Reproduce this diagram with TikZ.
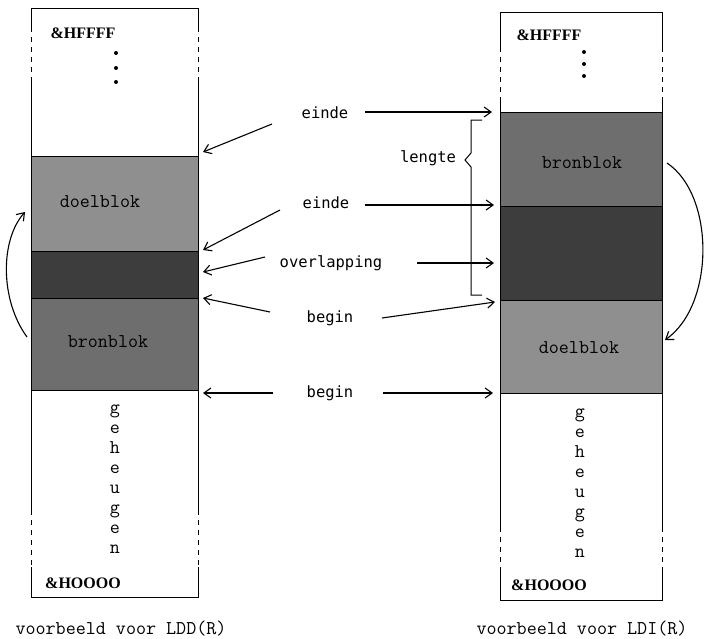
\documentclass[tikz,border=0pt]{standalone}
\usepackage{fontspec}
\newfontfamily\midfont{DejaVu Sans Mono}
\newfontfamily\addrfont{Liberation Serif}
\usetikzlibrary{arrows.meta}
\definecolor{doelc}{gray}{0.56}
\definecolor{bronc}{gray}{0.43}
\definecolor{overc}{gray}{0.24}
\begin{document}
\begin{tikzpicture}[x=1pt,y=-1pt,line width=1pt,
  boxtxt/.style={font=\ttfamily\fontsize{19.5}{20}\selectfont,inner sep=0pt},
  addr/.style={font=\addrfont\bfseries\fontsize{16}{18}\selectfont,inner sep=0pt},
  midtxt/.style={font=\midfont\fontsize{15.5}{18}\selectfont,inner sep=0pt},
  arr/.style={-{Straight Barb[length=7pt,width=10pt]},line width=1.1pt},
  dsh/.style={dash pattern=on 5pt off 5pt},
  sep/.style={line width=0.8pt}]
\useasboundingbox (0,0) rectangle (705,638);
% ---------- left box ----------
\fill[doelc] (31,156) rectangle (198,251);
\fill[overc] (31,251) rectangle (198,298);
\fill[bronc] (31,298) rectangle (198,390);
\draw[sep] (31,156) -- (198,156) (31,251) -- (198,251) (31,298) -- (198,298) (31,390) -- (198,390);
\draw (31,27) -- (31,8) -- (198,8) -- (198,27);
\draw[dsh] (31,27) -- (31,80) (198,27) -- (198,80);
\draw (31,80) -- (31,510) (198,80) -- (198,510);
\draw[dsh] (31,510) -- (31,567) (198,510) -- (198,567);
\draw (31,567) -- (31,597) -- (198,597) -- (198,567);
\node[addr] (lhi) at (83,33) {\&HFFFF};
\fill (116,53) circle (2) (116,68) circle (2) (116,82) circle (2);
\node[boxtxt] (ldoel) at (100,202) {doelblok};
\node[boxtxt] (lbron) at (108,342) {bronblok};
\node[boxtxt,align=center] (lgeh) at (115,479) {g\\e\\h\\e\\u\\g\\e\\n};
\node[addr] (llo) at (83,583) {\&HOOOO};
\node[boxtxt] (lcap) at (121,629) {voorbeeld voor LDD(R)};
% ---------- right box ----------
\fill[bronc] (500,112) rectangle (662,206);
\fill[overc] (500,206) rectangle (662,300);
\fill[doelc] (500,300) rectangle (662,393);
\draw[sep] (500,112) -- (662,112) (500,206) -- (662,206) (500,300) -- (662,300) (500,393) -- (662,393);
\draw (500,47) -- (500,12) -- (662,12) -- (662,47);
\draw[dsh] (500,47) -- (500,97) (662,47) -- (662,97);
\draw (500,97) -- (500,527) (662,97) -- (662,527);
\draw[dsh] (500,527) -- (500,567) (662,527) -- (662,567);
\draw (500,567) -- (500,600) -- (662,600) -- (662,567);
\node[addr] (rhi) at (549,35) {\&HFFFF};
\fill (584,52) circle (2) (584,64) circle (2) (584,76) circle (2);
\node[boxtxt] (rbron) at (582,163) {bronblok};
\node[boxtxt] (rdoel) at (579,348) {doelblok};
\node[boxtxt,align=center] (rgeh) at (580,483) {g\\e\\h\\e\\u\\g\\e\\n};
\node[addr] (rlo) at (549,585) {\&HOOOO};
\node[boxtxt] (rcap) at (582,629) {voorbeeld voor LDI(R)};
% ---------- middle labels ----------
\node[midtxt] (e1) at (325,113) {einde};
\node[midtxt] (e2) at (326,203) {einde};
\node[midtxt] (ov) at (331,263) {overlapping};
\node[midtxt] (b1) at (330,318) {begin};
\node[midtxt] (b2) at (330,393) {begin};
\node[midtxt] (len) at (428,158) {lengte};
% coordinates
\coordinate (e1l) at (272,124); \coordinate (e1lt) at (203,152);
\coordinate (e1r) at (365,112); \coordinate (e1rt) at (492,112);
\coordinate (e2l) at (280,210); \coordinate (e2lt) at (203,250);
\coordinate (e2r) at (365,205); \coordinate (e2rt) at (494,205);
\coordinate (ovl) at (265,257); \coordinate (ovlt) at (203,272);
\coordinate (ovr) at (417,263); \coordinate (ovrt) at (494,263);
\coordinate (b1l) at (270,312); \coordinate (b1lt) at (203,298);
\coordinate (b1r) at (382,318); \coordinate (b1rt) at (495,302);
\coordinate (b2l) at (273,393); \coordinate (b2lt) at (203,393);
\coordinate (b2r) at (383,393); \coordinate (b2rt) at (493,393);
\draw[arr] (e1l) -- (e1lt);
\draw[arr] (e1r) -- (e1rt);
\draw[arr] (e2l) -- (e2lt);
\draw[arr] (e2r) -- (e2rt);
\draw[arr] (ovl) -- (ovlt);
\draw[arr] (ovr) -- (ovrt);
\draw[arr] (b1l) -- (b1lt);
\draw[arr] (b1r) -- (b1rt);
\draw[arr] (b2l) -- (b2lt);
\draw[arr] (b2r) -- (b2rt);
% brace
\draw[line width=1pt] (482,120) -- (471,120) -- (471,153) -- (465,160) -- (471,167) -- (471,295) -- (482,295);
% curved arrows
\coordinate (lc1) at (27,337); \coordinate (lc2) at (25,212);
\draw[arr] (lc1) .. controls (0,300) and (0,240) .. (lc2);
\coordinate (rc1) at (667,163); \coordinate (rc2) at (665,340);
\draw[arr] (rc1) .. controls (715,195) and (715,305) .. (rc2);
\end{tikzpicture}
\end{document}
